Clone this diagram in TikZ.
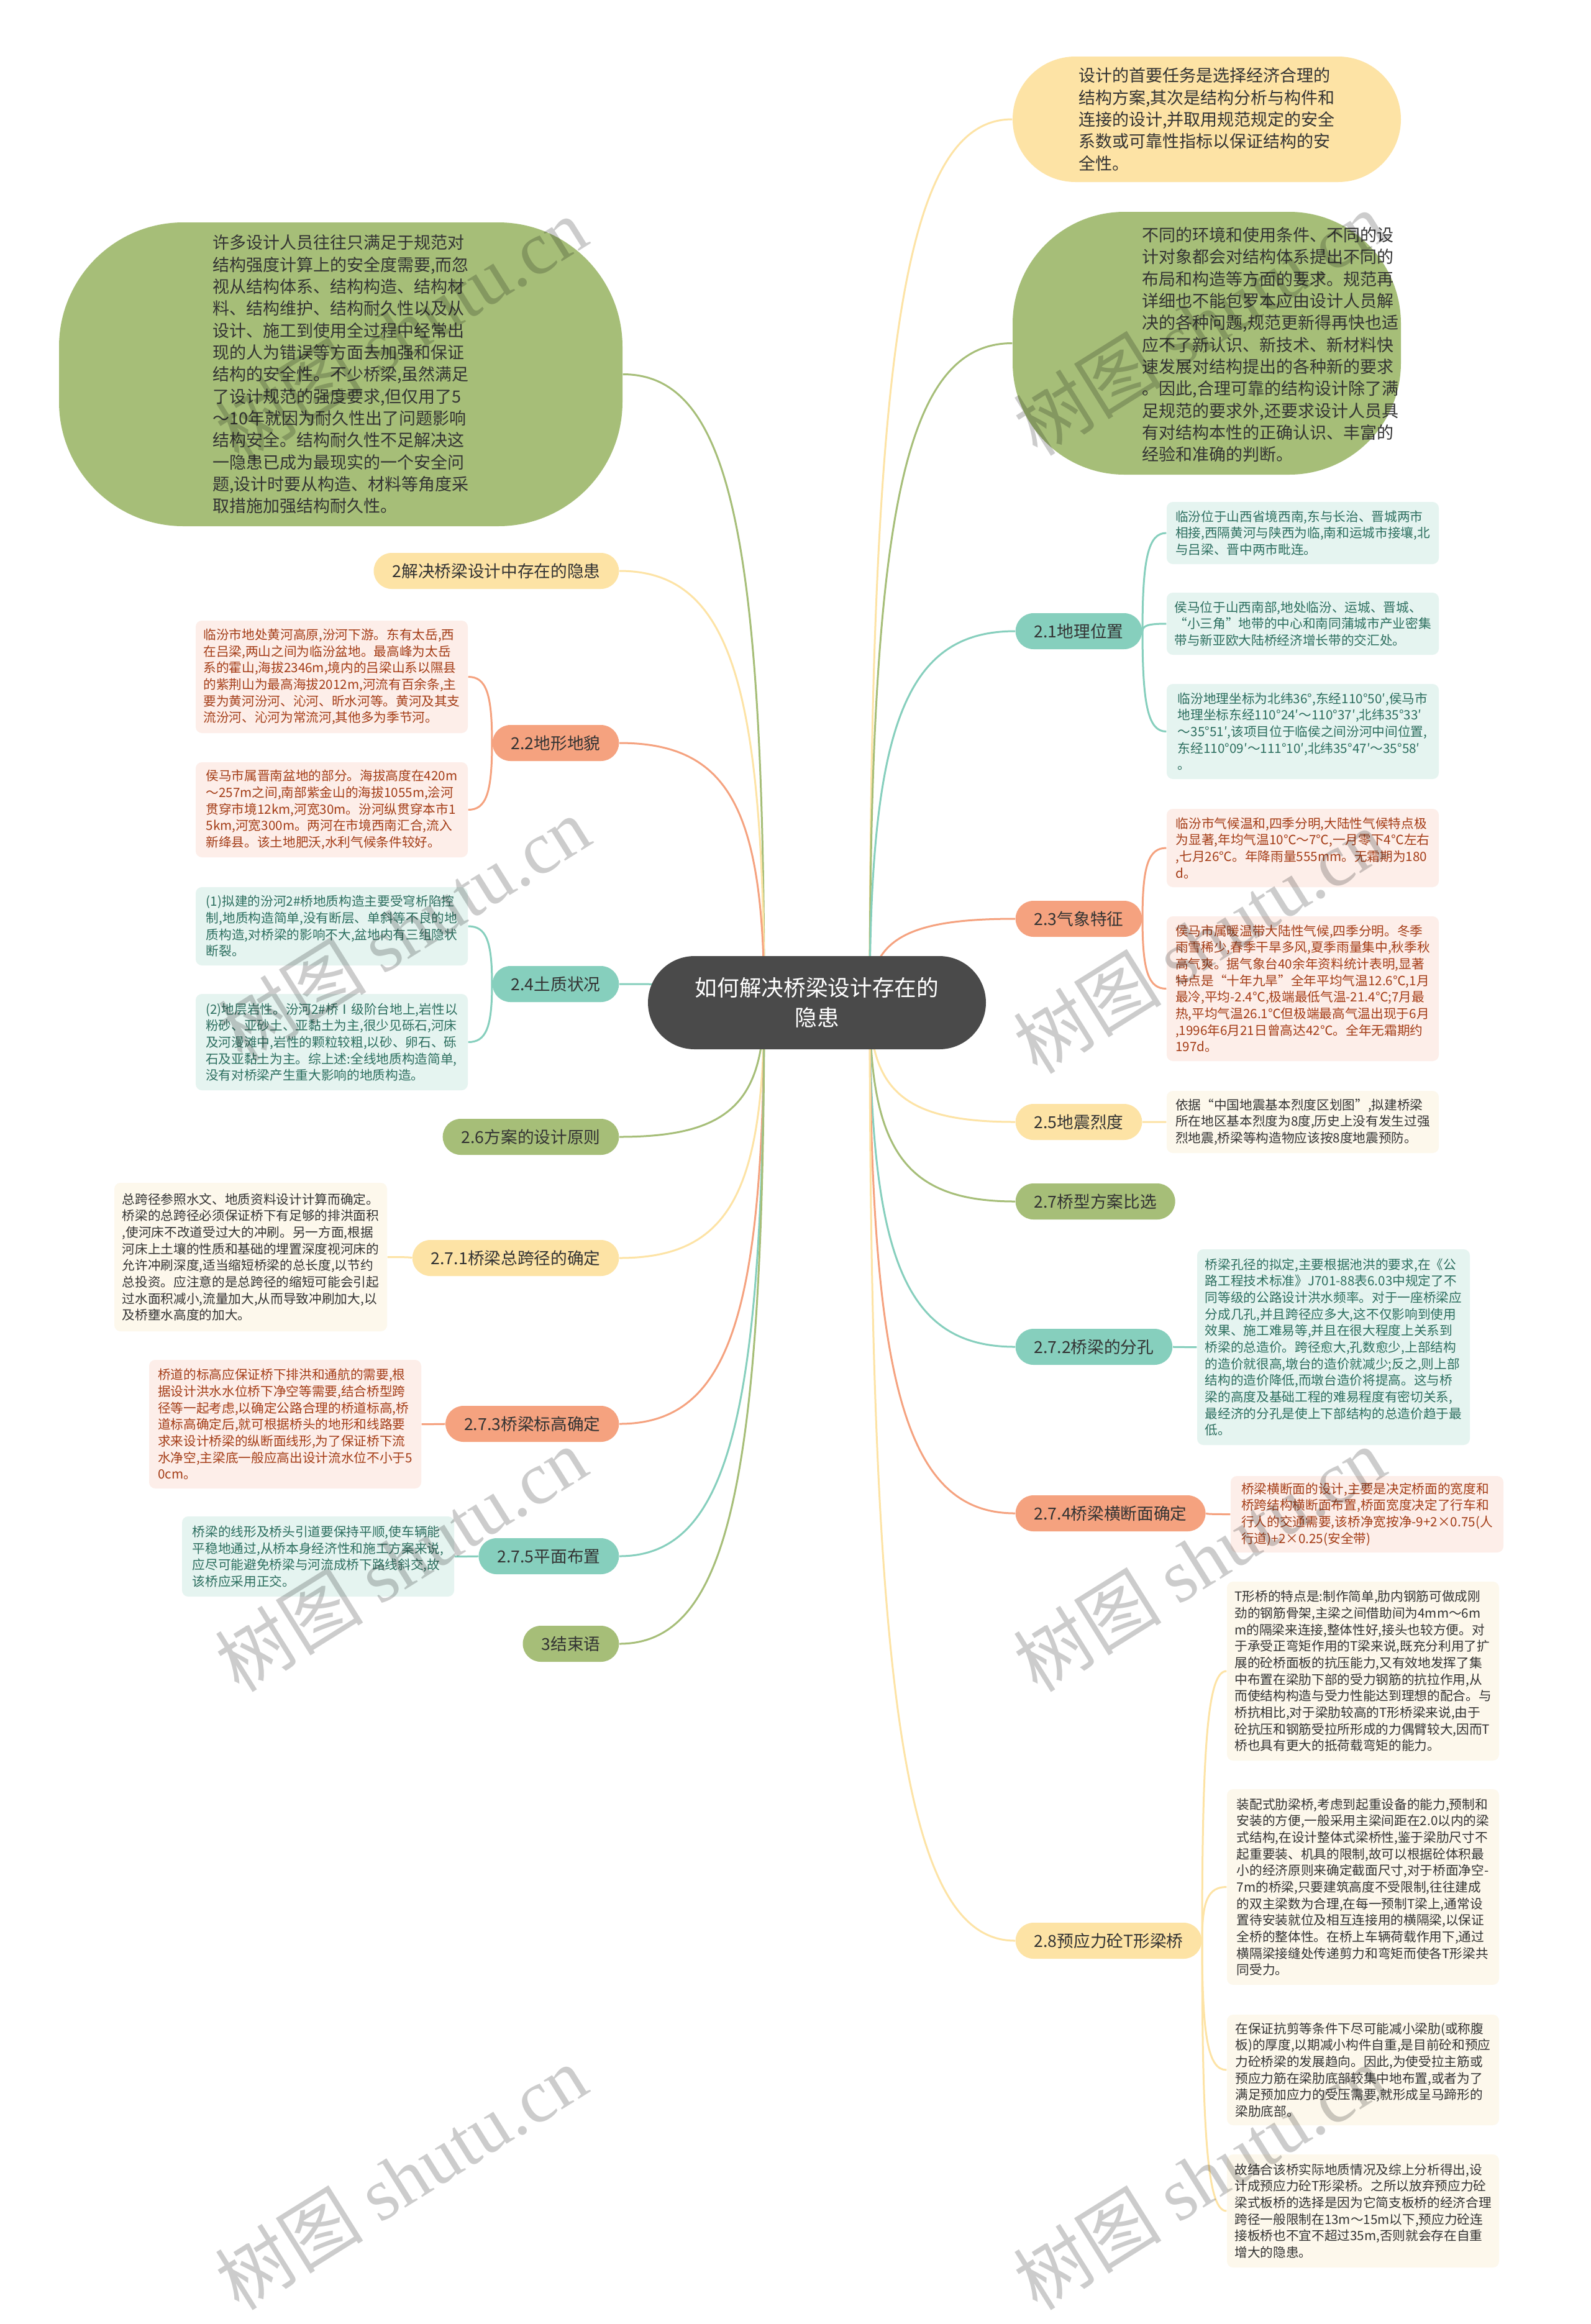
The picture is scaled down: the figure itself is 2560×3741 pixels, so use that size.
\documentclass[tikz,border=0pt]{standalone}
\usepackage{fontspec}
\setmainfont{Noto Sans CJK SC}
\newfontfamily\wmfont{Liberation Serif}
\usetikzlibrary{calc}
\definecolor{cdark}{HTML}{4A4A4A}
\definecolor{cgreen}{HTML}{A6BE78}
\definecolor{cteal}{HTML}{86CFBD}
\definecolor{csalmon}{HTML}{F5A27F}
\definecolor{cyellow}{HTML}{FDE3A5}
\definecolor{pinkfill}{HTML}{FDEEE9}
\definecolor{pinktext}{HTML}{A43D17}
\definecolor{tealfill}{HTML}{E5F4F0}
\definecolor{tealtext}{HTML}{2C6E5F}
\definecolor{yelfill}{HTML}{FDF8EC}
\definecolor{txt}{HTML}{333333}
\pgfdeclarelayer{back}
\pgfdeclarelayer{bg}
\pgfsetlayers{back,bg,main}
\newcommand\conn[3]{\draw[link,#1] (#2) .. controls ($(#2)!0.75!(#2|-#3)$) and ($(#3)!0.75!(#3-|#2)$) .. (#3);}
\newcommand\leafbox[7]{%
  \node[leaf,#6,minimum width={(#4-#2)*0.3pt},minimum height={(#5-#3)*0.3pt}] (#1) at ({(#2+#4)/2},{(#3+#5)/2}) {#7};}
\begin{document}
\begin{tikzpicture}[x=0.3pt,y=-0.3pt,
  link/.style={line width=0.9pt},
  centernode/.style={fill=cdark,text=white,rounded corners=22.5pt,minimum width=163.2pt,minimum height=45pt,align=center,inner sep=0pt,font=\fontsize{10.7}{14.4}\selectfont},
  br/.style={rounded corners=8.7pt,minimum height=17.4pt,inner xsep=9pt,inner ysep=0pt,text=txt,font=\fontsize{8}{9}\selectfont},
  brR/.style={br,anchor=west},
  brL/.style={br,anchor=east},
  leaf/.style={rounded corners=3pt,inner sep=0pt,align=left,font=\fontsize{6.2}{8}\selectfont},
  pinkleaf/.style={fill=pinkfill,text=pinktext},
  tealleaf/.style={fill=tealfill,text=tealtext},
  yelleaf/.style={fill=yelfill,text=txt},
  bigshape/.style={inner sep=0pt,align=left,text=txt,font=\fontsize{8.1}{10.6}\selectfont},
  wm/.style={text=black,text opacity=0.2,rotate=32,inner sep=0pt,font=\fontsize{36}{40}\selectfont}]
\begin{pgfonlayer}{back}
\fill[white] (0,0) rectangle (2560,3741);
\end{pgfonlayer}
\useasboundingbox (0,0) rectangle (2560,3741);

% center
\node[centernode] (c) at (1315,1614) {如何解决桥梁设计存在的\\隐患};
\coordinate (sR) at (1400,1614);
\coordinate (sL) at (1230,1614);

% big shapes
\node[bigshape,fill=cyellow,minimum width=187.5pt,minimum height=60.6pt,rounded corners=30.3pt] (ty) at (1942.5,192) {设计的首要任务是选择经济合理的\\结构方案,其次是结构分析与构件和\\连接的设计,并取用规范规定的安全\\系数或可靠性指标以保证结构的安\\全性。};
\node[fill=cgreen,minimum width=187.5pt,minimum height=126.9pt,rounded corners=54pt,inner sep=0pt] (rg) at (1942.5,552.5) {};
\node[bigshape] (rgt) at (2045,555) {不同的环境和使用条件、不同的设\\计对象都会对结构体系提出不同的\\布局和构造等方面的要求。规范再\\详细也不能包罗本应由设计人员解\\决的各种问题,规范更新得再快也适\\应不了新认识、新技术、新材料快\\速发展对结构提出的各种新的要求\\。因此,合理可靠的结构设计除了满\\足规范的要求外,还要求设计人员具\\有对结构本性的正确认识、丰富的\\经验和准确的判断。};
\node[bigshape,fill=cgreen,minimum width=272.1pt,minimum height=146.7pt,rounded corners=60pt,align=left] (lg) at (548.5,602.5) {许多设计人员往往只满足于规范对\\结构强度计算上的安全度需要,而忽\\视从结构体系、结构构造、结构材\\料、结构维护、结构耐久性以及从\\设计、施工到使用全过程中经常出\\现的人为错误等方面去加强和保证\\结构的安全性。不少桥梁,虽然满足\\了设计规范的强度要求,但仅用了5\\～10年就因为耐久性出了问题影响\\结构安全。结构耐久性不足解决这\\一隐患已成为最现实的一个安全问\\题,设计时要从构造、材料等角度采\\取措施加强结构耐久性。};

% right branches
\node[brR,fill=cteal] (b21) at (1634,1016) {2.1地理位置};
\node[brR,fill=csalmon] (b23) at (1634,1479) {2.3气象特征};
\node[brR,fill=cyellow] (b25) at (1634,1806) {2.5地震烈度};
\node[brR,fill=cgreen] (b27) at (1634,1934) {2.7桥型方案比选};
\node[brR,fill=cteal] (b272) at (1634,2168) {2.7.2桥梁的分孔};
\node[brR,fill=csalmon] (b274) at (1634,2436) {2.7.4桥梁横断面确定};
\node[brR,fill=cyellow] (b28) at (1634,3124) {2.8预应力砼T形梁桥};

% left branches
\node[brL,fill=cyellow] (b2) at (997,919) {2解决桥梁设计中存在的隐患};
\node[brL,fill=csalmon] (b22) at (997,1196) {2.2地形地貌};
\node[brL,fill=cteal] (b24) at (997,1584) {2.4土质状况};
\node[brL,fill=cgreen] (b26) at (997,1830) {2.6方案的设计原则};
\node[brL,fill=cyellow] (b271) at (997,2025) {2.7.1桥梁总跨径的确定};
\node[brL,fill=csalmon] (b273) at (997,2292) {2.7.3桥梁标高确定};
\node[brL,fill=cteal] (b275) at (997,2505) {2.7.5平面布置};
\node[brL,fill=cgreen] (b3) at (997,2646) {3结束语};

% right leaves
\leafbox{L21a}{1878}{808}{2316}{908}{tealleaf}{临汾位于山西省境西南,东与长治、晋城两市\\相接,西隔黄河与陕西为临,南和运城市接壤,北\\与吕梁、晋中两市毗连。}
\leafbox{L21b}{1878}{954}{2316}{1054}{tealleaf}{侯马位于山西南部,地处临汾、运城、晋城、\\“小三角”地带的中心和南同蒲城市产业密集\\带与新亚欧大陆桥经济增长带的交汇处。}
\leafbox{L21c}{1878}{1101}{2316}{1254}{tealleaf}{临汾地理坐标为北纬36°,东经110°50′,侯马市\\地理坐标东经110°24′～110°37′,北纬35°33′\\～35°51′,该项目位于临侯之间汾河中间位置,\\东经110°09′～111°10′,北纬35°47′～35°58′\\。}
\leafbox{L23a}{1878}{1302}{2316}{1428}{pinkleaf}{临汾市气候温和,四季分明,大陆性气候特点极\\为显著,年均气温10℃～7℃,一月零下4℃左右\\,七月26℃。年降雨量555mm。无霜期为180\\d。}
\leafbox{L23b}{1878}{1475}{2316}{1708}{pinkleaf}{侯马市属暖温带大陆性气候,四季分明。冬季\\雨雪稀少,春季干旱多风,夏季雨量集中,秋季秋\\高气爽。据气象台40余年资料统计表明,显著\\特点是“十年九旱”全年平均气温12.6℃,1月\\最冷,平均-2.4℃,极端最低气温-21.4℃;7月最\\热,平均气温26.1℃但极端最高气温出现于6月\\,1996年6月21日曾高达42℃。全年无霜期约\\197d。}
\leafbox{L25}{1878}{1756}{2316}{1856}{yelleaf}{依据“中国地震基本烈度区划图”,拟建桥梁\\所在地区基本烈度为8度,历史上没有发生过强\\烈地震,桥梁等构造物应该按8度地震预防。}
\leafbox{L272}{1927}{2011}{2366}{2326}{tealleaf}{桥梁孔径的拟定,主要根据池洪的要求,在《公\\路工程技术标准》J701-88表6.03中规定了不\\同等级的公路设计洪水频率。对于一座桥梁应\\分成几孔,并且跨径应多大,这不仅影响到使用\\效果、施工难易等,并且在很大程度上关系到\\桥梁的总造价。跨径愈大,孔数愈少,上部结构\\的造价就很高,墩台的造价就减少;反之,则上部\\结构的造价降低,而墩台造价将提高。这与桥\\梁的高度及基础工程的难易程度有密切关系,\\最经济的分孔是使上下部结构的总造价趋于最\\低。}
\leafbox{L274}{1981}{2376}{2420}{2499}{pinkleaf}{桥梁横断面的设计,主要是决定桥面的宽度和\\桥跨结构横断面布置,桥面宽度决定了行车和\\行人的交通需要,该桥净宽按净-9+2×0.75(人\\行道)+2×0.25(安全带)}
\leafbox{L28a}{1975}{2546}{2413}{2834}{yelleaf}{T形桥的特点是:制作简单,肋内钢筋可做成刚\\劲的钢筋骨架,主梁之间借助间为4mm～6m\\m的隔梁来连接,整体性好,接头也较方便。对\\于承受正弯矩作用的T梁来说,既充分利用了扩\\展的砼桥面板的抗压能力,又有效地发挥了集\\中布置在梁肋下部的受力钢筋的抗拉作用,从\\而使结构构造与受力性能达到理想的配合。与\\桥抗相比,对于梁肋较高的T形桥梁来说,由于\\砼抗压和钢筋受拉所形成的力偶臂较大,因而T\\桥也具有更大的抵荷载弯矩的能力。}
\leafbox{L28b}{1975}{2880}{2413}{3195}{yelleaf}{装配式肋梁桥,考虑到起重设备的能力,预制和\\安装的方便,一般采用主梁间距在2.0以内的梁\\式结构,在设计整体式梁桥性,鉴于梁肋尺寸不\\起重要装、机具的限制,故可以根据砼体积最\\小的经济原则来确定截面尺寸,对于桥面净空-\\7m的桥梁,只要建筑高度不受限制,往往建成\\的双主梁数为合理,在每一预制T梁上,通常设\\置待安装就位及相互连接用的横隔梁,以保证\\全桥的整体性。在桥上车辆荷载作用下,通过\\横隔梁接缝处传递剪力和弯矩而使各T形梁共\\同受力。}
\leafbox{L28c}{1975}{3243}{2413}{3421}{yelleaf}{在保证抗剪等条件下尽可能减小梁肋(或称腹\\板)的厚度,以期减小构件自重,是目前砼和预应\\力砼桥梁的发展趋向。因此,为使受拉主筋或\\预应力筋在梁肋底部较集中地布置,或者为了\\满足预加应力的受压需要,就形成呈马蹄形的\\梁肋底部。}
\leafbox{L28d}{1975}{3468}{2413}{3650}{yelleaf}{故结合该桥实际地质情况及综上分析得出,设\\计成预应力砼T形梁桥。之所以放弃预应力砼\\梁式板桥的选择是因为它简支板桥的经济合理\\跨径一般限制在13m～15m以下,预应力砼连\\接板桥也不宜不超过35m,否则就会存在自重\\增大的隐患。}

% left leaves
\leafbox{L22a}{315}{999}{753}{1180}{pinkleaf}{临汾市地处黄河高原,汾河下游。东有太岳,西\\在吕梁,两山之间为临汾盆地。最高峰为太岳\\系的霍山,海拔2346m,境内的吕梁山系以隰县\\的紫荆山为最高海拔2012m,河流有百余条,主\\要为黄河汾河、沁河、昕水河等。黄河及其支\\流汾河、沁河为常流河,其他多为季节河。}
\leafbox{L22b}{315}{1227}{753}{1380}{pinkleaf}{侯马市属晋南盆地的部分。海拔高度在420m\\～257m之间,南部紫金山的海拔1055m,浍河\\贯穿市境12km,河宽30m。汾河纵贯穿本市1\\5km,河宽300m。两河在市境西南汇合,流入\\新绛县。该土地肥沃,水利气候条件较好。}
\leafbox{L24a}{315}{1428}{753}{1554}{tealleaf}{(1)拟建的汾河2\#桥地质构造主要受穹析陷控\\制,地质构造简单,没有断层、单斜等不良的地\\质构造,对桥梁的影响不大,盆地内有三组隐状\\断裂。}
\leafbox{L24b}{315}{1600}{753}{1755}{tealleaf}{(2)地层岩性。汾河2\#桥Ⅰ级阶台地上,岩性以\\粉砂、亚砂土、亚黏土为主,很少见砾石,河床\\及河漫滩中,岩性的颗粒较粗,以砂、卵石、砾\\石及亚黏土为主。综上述:全线地质构造简单,\\没有对桥梁产生重大影响的地质构造。}
\leafbox{L271}{184}{1904}{623}{2143}{yelleaf}{总跨径参照水文、地质资料设计计算而确定。\\桥梁的总跨径必须保证桥下有足够的排洪面积\\,使河床不改道受过大的冲刷。另一方面,根据\\河床上土壤的性质和基础的埋置深度视河床的\\允许冲刷深度,适当缩短桥梁的总长度,以节约\\总投资。应注意的是总跨径的缩短可能会引起\\过水面积减小,流量加大,从而导致冲刷加大,以\\及桥壅水高度的加大。}
\leafbox{L273}{240}{2189}{678}{2396}{pinkleaf}{桥道的标高应保证桥下排洪和通航的需要,根\\据设计洪水水位桥下净空等需要,结合桥型跨\\径等一起考虑,以确定公路合理的桥道标高,桥\\道标高确定后,就可根据桥头的地形和线路要\\求来设计桥梁的纵断面线形,为了保证桥下流\\水净空,主梁底一般应高出设计流水位不小于5\\0cm。}
\leafbox{L275}{293}{2441}{731}{2570}{tealleaf}{桥梁的线形及桥头引道要保持平顺,使车辆能\\平稳地通过,从桥本身经济性和施工方案来说,\\应尽可能避免桥梁与河流成桥下路线斜交,故\\该桥应采用正交。}

% connectors
\begin{pgfonlayer}{bg}
\conn{cyellow}{sR}{ty.west}
\conn{cgreen}{sR}{rg.west}
\conn{cteal}{sR}{b21.west}
\conn{csalmon}{sR}{b23.west}
\conn{cyellow}{sR}{b25.west}
\conn{cgreen}{sR}{b27.west}
\conn{cteal}{sR}{b272.west}
\conn{csalmon}{sR}{b274.west}
\conn{cyellow}{sR}{b28.west}
\conn{cgreen}{sL}{lg.east}
\conn{cyellow}{sL}{b2.east}
\conn{csalmon}{sL}{b22.east}
\conn{cteal}{sL}{b24.east}
\conn{cgreen}{sL}{b26.east}
\conn{cyellow}{sL}{b271.east}
\conn{csalmon}{sL}{b273.east}
\conn{cteal}{sL}{b275.east}
\conn{cgreen}{sL}{b3.east}
\conn{cteal}{b21.east}{L21a.west}
\conn{cteal}{b21.east}{L21b.west}
\conn{cteal}{b21.east}{L21c.west}
\conn{csalmon}{b23.east}{L23a.west}
\conn{csalmon}{b23.east}{L23b.west}
\conn{cyellow}{b25.east}{L25.west}
\conn{cteal}{b272.east}{L272.west}
\conn{csalmon}{b274.east}{L274.west}
\conn{cyellow}{b28.east}{L28a.west}
\conn{cyellow}{b28.east}{L28b.west}
\conn{cyellow}{b28.east}{L28c.west}
\conn{cyellow}{b28.east}{L28d.west}
\conn{csalmon}{b22.west}{L22a.east}
\conn{csalmon}{b22.west}{L22b.east}
\conn{cteal}{b24.west}{L24a.east}
\conn{cteal}{b24.west}{L24b.east}
\conn{cyellow}{b271.west}{L271.east}
\conn{csalmon}{b273.west}{L273.east}
\conn{cteal}{b275.west}{L275.east}
\end{pgfonlayer}

% watermarks
\node[wm] (w1) at (645,530) {树图\hspace{8pt}{\wmfont shutu.cn}};
\node[wm] (w2) at (1930,520) {树图\hspace{8pt}{\wmfont shutu.cn}};
\node[wm] (w3) at (650,1495) {树图\hspace{8pt}{\wmfont shutu.cn}};
\node[wm] (w4) at (1930,1515) {树图\hspace{8pt}{\wmfont shutu.cn}};
\node[wm] (w5) at (645,2510) {树图\hspace{8pt}{\wmfont shutu.cn}};
\node[wm] (w6) at (1930,2510) {树图\hspace{8pt}{\wmfont shutu.cn}};
\node[wm] (w7) at (645,3505) {树图\hspace{8pt}{\wmfont shutu.cn}};
\node[wm] (w8) at (1930,3505) {树图\hspace{8pt}{\wmfont shutu.cn}};
\end{tikzpicture}
\end{document}
